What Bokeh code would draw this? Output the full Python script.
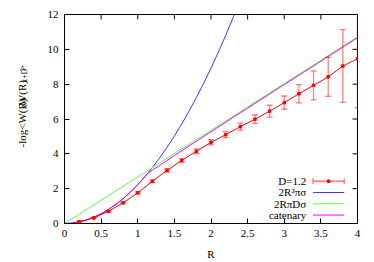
import math
from bokeh.plotting import figure
from bokeh.layouts import row
from bokeh.models import Range1d, FixedTicker, Label
from bokeh.core.properties import value
from bokeh.embed import file_html
from bokeh.resources import INLINE

# ---- data ----
R_data = [0.2, 0.4, 0.6, 0.8, 1.0, 1.2, 1.4, 1.6, 1.8, 2.0,
          2.2, 2.4, 2.6, 2.8, 3.0, 3.2, 3.4, 3.6, 3.8, 4.0]
W_data = [0.10, 0.32, 0.70, 1.19, 1.76, 2.43, 3.05, 3.62, 4.15, 4.66,
          5.10, 5.56, 5.99, 6.45, 6.94, 7.45, 7.93, 8.42, 9.04, 9.46]
W_err = [0.02, 0.03, 0.04, 0.05, 0.06, 0.08, 0.10, 0.11, 0.13, 0.15,
         0.17, 0.20, 0.24, 0.34, 0.38, 0.52, 0.83, 1.12, 2.09, 2.81]

R_disk = [0.0, 0.1, 0.2, 0.3, 0.4, 0.5, 0.6, 0.7, 0.8, 0.9, 1.0, 1.1, 1.2,
          1.3, 1.4, 1.5, 1.6, 1.7, 1.8, 1.9, 2.0, 2.1, 2.2, 2.3, 2.35]
W_disk = [0.0, 0.022, 0.089, 0.201, 0.357, 0.558, 0.803, 1.093, 1.428, 1.807,
          2.231, 2.699, 3.212, 3.770, 4.372, 5.019, 5.710, 6.446, 7.227, 8.052,
          8.922, 9.837, 10.796, 11.799, 12.32]

R_tube = [0.0, 4.0]
W_tube = [0.0, 10.71]

R_cat = [0.0, 0.1, 0.2, 0.3, 0.4, 0.5, 0.6, 0.7, 0.8, 0.9, 1.0, 1.1, 1.137,
         1.2, 1.3, 1.4, 1.5, 1.75, 2.0, 2.5, 3.0, 3.5, 4.0]
W_cat = [0.0, 0.022, 0.089, 0.201, 0.357, 0.558, 0.803, 1.093, 1.428, 1.807,
         2.231, 2.699, 2.88, 3.07, 3.34, 3.62, 3.90, 4.59, 5.27, 6.63, 7.98,
         9.32, 10.67]

x_ticks = [0, 0.5, 1, 1.5, 2, 2.5, 3, 3.5, 4]
x_tick_labels = ["0", "0.5", "1", "1.5", "2", "2.5", "3", "3.5", "4"]
y_ticks = [0, 2, 4, 6, 8, 10, 12]
legend_labels = ["D=1.2", "2R\u00b2\u03c0\u03c3", "2R\u03c0D\u03c3", "catenary"]

RED = "#ff0000"
BLUE = "#3a3aff"
GREEN = "#50ff50"
MAGENTA = "#ff00ff"
FONT = "Liberation Serif"

PAGE_W, PAGE_H = 374, 262
LW = 44                      # width of the side strip holding the y-axis title
# frame edges in page pixels
PL, PR, PT, PB = 63, 357, 14, 225
XMAX, YMAX = 4.0, 12.0

W = PAGE_W - LW
p = figure(width=W, height=PAGE_H, output_backend="svg", toolbar_location=None,
           x_range=Range1d(0, XMAX), y_range=Range1d(0, YMAX),
           min_border_left=PL - LW, min_border_right=PAGE_W - PR,
           min_border_top=PT, min_border_bottom=PAGE_H - PB)
p.grid.visible = False
p.outline_line_color = "black"
p.outline_line_width = 1
p.outline_line_alpha = 1
p.background_fill_color = "white"
p.border_fill_color = "white"

for ax in (p.xaxis[0], p.yaxis[0]):
    ax.axis_line_color = "black"
    ax.major_tick_line_color = "black"
    ax.major_tick_in = 5
    ax.major_tick_out = 0
    ax.minor_tick_line_color = None
    ax.major_label_text_font = FONT
    ax.major_label_text_color = "black"
    ax.major_label_text_font_size = "11px"
    ax.major_label_standoff = 6

p.xaxis.ticker = FixedTicker(ticks=x_ticks)
p.xaxis.major_label_overrides = {t: s for t, s in zip(x_ticks, x_tick_labels)}
p.xaxis.axis_label = "R"
p.xaxis.axis_label_text_font = FONT
p.xaxis.axis_label_text_font_style = "normal"
p.xaxis.axis_label_text_font_size = "11px"
p.xaxis.axis_label_text_color = "black"
p.xaxis.axis_label_standoff = 8
p.yaxis.ticker = FixedTicker(ticks=y_ticks)

# mirrored inward ticks on top and right edges
tick_dy = 5.0 / (PB - PT) * YMAX
tick_dx = 5.0 / (PR - PL) * XMAX
p.segment(x_ticks, [YMAX] * len(x_ticks), x_ticks, [YMAX - tick_dy] * len(x_ticks),
          line_color="black", line_width=1)
p.segment([XMAX] * len(y_ticks), y_ticks, [XMAX - tick_dx] * len(y_ticks), y_ticks,
          line_color="black", line_width=1)

# ---- curves ----
p.line(R_disk, W_disk, line_color=BLUE, line_width=1)
p.line(R_tube, W_tube, line_color=GREEN, line_width=1)
p.line(R_cat, W_cat, line_color=MAGENTA, line_width=1)

lo = [v - e for v, e in zip(W_data, W_err)]
hi = [v + e for v, e in zip(W_data, W_err)]
p.segment(R_data, lo, R_data, hi, line_color=RED, line_alpha=0.5, line_width=1.3)
p.scatter(R_data, lo, marker="dash", size=6, line_color=RED, line_alpha=0.5, line_width=1.3)
p.scatter(R_data, hi, marker="dash", size=6, line_color=RED, line_alpha=0.5, line_width=1.3)
p.line(R_data, W_data, line_color=RED, line_width=1)
p.scatter(R_data, W_data, marker="square", size=2.5, fill_color=RED, line_color=RED)


# ---- helpers: page pixel -> data ----
def dx(px):
    return (px - PL) / (PR - PL) * XMAX


def dy(py):
    return (PB - py) / (PB - PT) * YMAX


# ---- legend (gnuplot style: text right-aligned, sample to its right) ----
rows = [182.3, 193.7, 205.1, 216.5]
tx = 305.5
sx0, sx1 = 312.3, 343.7
colors = [RED, BLUE, GREEN, MAGENTA]
for i, (lab, col, yy) in enumerate(zip(legend_labels, colors, rows)):
    p.add_layout(Label(x=dx(tx), y=dy(yy), text=lab, text_align="right",
                       text_baseline="middle", text_font=FONT,
                       text_font_size="11px", text_color="black"))
    if i == 0:
        p.segment([dx(sx0)], [dy(yy)], [dx(sx1)], [dy(yy)], line_color=RED,
                  line_alpha=0.45, line_width=2)
        p.segment([dx(sx0), dx(sx1)], [dy(yy - 3), dy(yy - 3)],
                  [dx(sx0), dx(sx1)], [dy(yy + 3), dy(yy + 3)],
                  line_color=RED, line_alpha=0.5, line_width=1.3)
        p.scatter([dx((sx0 + sx1) / 2)], [dy(yy)], marker="square", size=2.5,
                  fill_color=RED, line_color=RED)
    else:
        p.segment([dx(sx0)], [dy(yy)], [dx(sx1)], [dy(yy)], line_color=col,
                  line_width=1)

# ---- side strip with the rotated y-axis title (with subscripts) ----
side = figure(width=LW, height=PAGE_H, output_backend="svg", toolbar_location=None,
              x_range=Range1d(0, LW), y_range=Range1d(0, PAGE_H),
              x_axis_type=None, y_axis_type=None,
              min_border_left=0, min_border_right=0,
              min_border_top=0, min_border_bottom=0)
side.grid.visible = False
side.outline_line_color = None
side.background_fill_color = "white"
side.border_fill_color = "white"

pieces = [("-log<W(R)", 11, 49.0, 0.0), ("x", 8, 4.0, 2.5),
          (" W(R)", 11, 27.8, 0.0), ("x+D", 8, 14.3, 2.5), (">", 11, 6.2, 0.0)]
total = sum(w for _, _, w, _ in pieces)
ycur = 116.0 + total / 2
base_x = 21.5
for txt, fs, w, shift in pieces:
    side.text(x=[base_x + shift], y=[PAGE_H - ycur], text=[txt], angle=math.pi / 2,
              text_align="left", text_baseline="alphabetic",
              text_font=value(FONT), text_font_size=value(f"{fs}px"),
              text_color="black")
    ycur -= w

layout = row(side, p)
open("out.html", "w").write(file_html(layout, INLINE))
